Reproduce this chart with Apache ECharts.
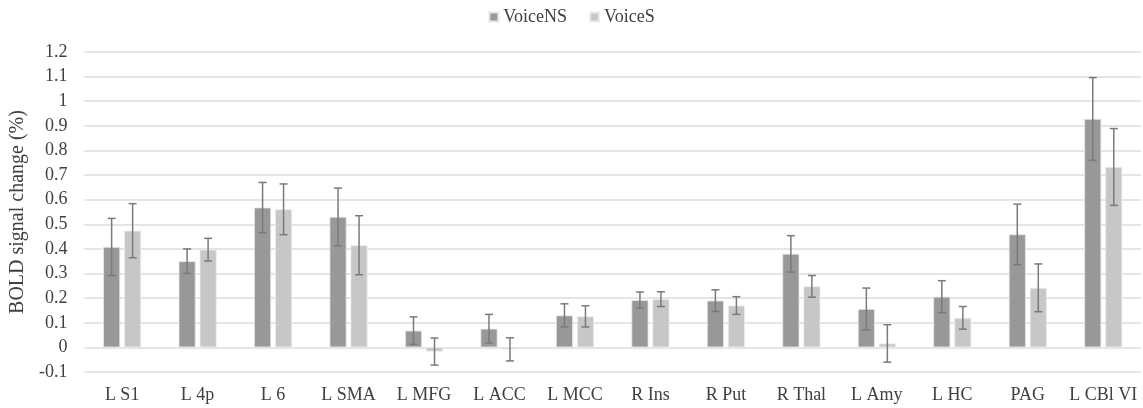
<!DOCTYPE html>
<html>
<head>
<meta charset="utf-8">
<script src="https://cdn.jsdelivr.net/npm/echarts@6/dist/echarts.min.js"></script>
<style>
html,body{margin:0;padding:0;background:#fff;}
#c{width:1143px;height:408px;}
</style>
</head>
<body>
<div id="c"></div>
<script>
const categories = ['L S1','L 4p','L 6','L SMA','L MFG','L ACC','L MCC','R Ins','R Put','R Thal','L Amy','L HC','PAG','L CBl VI'];
const voiceNS = [0.408,0.350,0.568,0.530,0.068,0.076,0.130,0.192,0.190,0.380,0.156,0.206,0.459,0.928];
const voiceNSErr = [0.116,0.050,0.102,0.117,0.056,0.058,0.047,0.033,0.044,0.074,0.085,0.065,0.123,0.168];
const voiceS = [0.474,0.397,0.561,0.415,-0.017,-0.008,0.126,0.196,0.170,0.248,0.016,0.120,0.242,0.733];
const voiceSErr = [0.110,0.046,0.103,0.120,0.055,0.047,0.043,0.030,0.036,0.044,0.076,0.046,0.097,0.156];
const seriesNames = ['VoiceNS','VoiceS'];
const yTicks = {min:-0.1, max:1.2, step:0.1};

const FONT = 'Liberation Serif';
const TXT = '#404040';
const BAR_W = 17, GAP = 4;
const OFF = (BAR_W + GAP) / 2;

function errSeries(vals, errs, sign) {
  return {
    type: 'custom',
    silent: true,
    z: 5,
    data: vals.map((v, i) => [i, v - errs[i], v + errs[i]]),
    renderItem: function (params, api) {
      const lo = api.coord([api.value(0), api.value(1)]);
      const hi = api.coord([api.value(0), api.value(2)]);
      const x = lo[0] + sign * OFF;
      const cap = 4;
      const st = {stroke: '#7a7a7a', lineWidth: 1.5};
      return {
        type: 'group',
        children: [
          {type: 'line', shape: {x1: x, y1: lo[1], x2: x, y2: hi[1]}, style: st},
          {type: 'line', shape: {x1: x - cap, y1: lo[1], x2: x + cap, y2: lo[1]}, style: st},
          {type: 'line', shape: {x1: x - cap, y1: hi[1], x2: x + cap, y2: hi[1]}, style: st}
        ]
      };
    }
  };
}

const chart = echarts.init(document.getElementById('c'), null, {renderer: 'canvas'});
chart.setOption({
  animation: false,
  backgroundColor: '#fff',
  textStyle: {fontFamily: FONT},
  legend: {
    data: seriesNames,
    top: 3,
    left: 'center',
    icon: 'rect',
    itemWidth: 9,
    itemHeight: 9,
    itemGap: 22,
    textStyle: {fontFamily: FONT, fontSize: 18, color: TXT}
  },
  grid: {left: 82, right: 2, top: 52, bottom: 36, containLabel: false},
  xAxis: {
    type: 'category',
    data: categories,
    axisLine: {show: false, onZero: false},
    axisTick: {show: false},
    axisLabel: {fontFamily: FONT, fontSize: 18, color: TXT, margin: 14, interval: 0}
  },
  yAxis: {
    type: 'value',
    min: yTicks.min,
    max: yTicks.max,
    interval: yTicks.step,
    name: 'BOLD signal change (%)',
    nameLocation: 'middle',
    nameRotate: 90,
    nameGap: 56,
    nameTextStyle: {fontFamily: FONT, fontSize: 20, color: TXT},
    axisLine: {show: false},
    axisTick: {show: false},
    axisLabel: {fontFamily: FONT, fontSize: 18, color: TXT, margin: 17,
      formatter: v => String(+v.toFixed(1))},
    splitLine: {lineStyle: {color: '#dcdcdc', width: 1.5}}
  },
  series: [
    {name: seriesNames[0], type: 'bar', data: voiceNS, barWidth: BAR_W, barGap: (GAP / BAR_W * 100) + '%',
      itemStyle: {color: '#989898', borderColor: '#e6e6e6', borderWidth: 0.8}},
    {name: seriesNames[1], type: 'bar', data: voiceS, barWidth: BAR_W,
      itemStyle: {color: '#c6c7c6', borderColor: '#ececec', borderWidth: 0.8}},
    errSeries(voiceNS, voiceNSErr, -1),
    errSeries(voiceS, voiceSErr, 1)
  ]
});
</script>
</body>
</html>
